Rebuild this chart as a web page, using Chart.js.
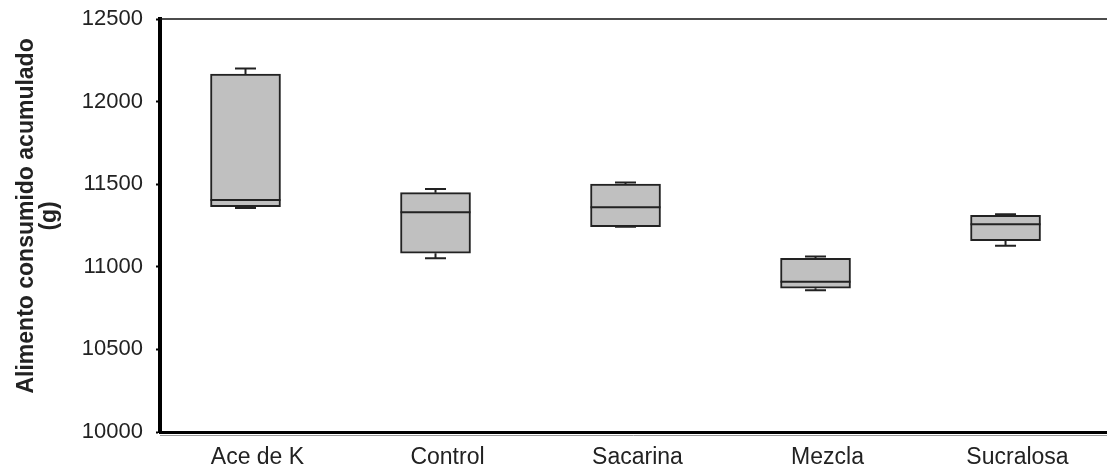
<!DOCTYPE html>
<html>
<head>
<meta charset="utf-8">
<script src="https://cdn.jsdelivr.net/npm/chart.js@4/dist/chart.umd.min.js"></script>
<style>
  html, body { margin: 0; padding: 0; background: #fff; }
  #wrap { width: 1107px; height: 474px; }
</style>
</head>
<body>
<div id="wrap"><canvas id="box-chart"></canvas></div>
<script>
// ======
// data
// ======
var categories = ["Ace de K", "Control", "Sacarina", "Mezcla", "Sucralosa"];
var whiskerLow  = [11356, 11051, 11243, 10858, 11128];
var q1Values    = [11364, 11082, 11243, 10870, 11158];
var medians     = [11404, 11330, 11360, 10910, 11257];
var q3Values    = [12167, 11449, 11501, 11051, 11312];
var whiskerHigh = [12201, 11471, 11511, 11063, 11318];
var yTicks = [10000, 10500, 11000, 11500, 12000, 12500];

var boxShift = -0.063; // boxes sit a little left of their labels

var ink = '#222';
var font = "'Liberation Sans', Arial, sans-serif";

// whiskers, caps and median lines
var boxExtras = {
    id: 'boxExtras',
    afterDatasetsDraw: function(chart) {
        var c = chart.ctx;
        var y = chart.scales.y;
        var bars = chart.getDatasetMeta(0).data;
        c.save();
        c.strokeStyle = ink;
        c.lineWidth = 2;
        bars.forEach(function(bar, i) {
            var x = bar.x;
            var half = bar.width / 2;
            var capHalf = 10.5;
            var yMed = y.getPixelForValue(medians[i]);
            var yQ1 = y.getPixelForValue(q1Values[i]);
            var yQ3 = y.getPixelForValue(q3Values[i]);
            var yLo = y.getPixelForValue(whiskerLow[i]);
            var yHi = y.getPixelForValue(whiskerHigh[i]);
            c.beginPath();
            c.moveTo(x - half, yMed); c.lineTo(x + half, yMed);
            c.moveTo(x, yQ3); c.lineTo(x, yHi);
            c.moveTo(x - capHalf, yHi); c.lineTo(x + capHalf, yHi);
            c.moveTo(x, yQ1); c.lineTo(x, yLo);
            c.moveTo(x - capHalf, yLo); c.lineTo(x + capHalf, yLo);
            c.stroke();
        });
        // frame: thin top line, grey shadow under the x axis
        var a = chart.chartArea;
        c.lineWidth = 1.5;
        c.strokeStyle = '#111';
        c.beginPath();
        c.moveTo(a.left, a.top); c.lineTo(a.right, a.top);
        c.stroke();
        c.lineWidth = 1;
        c.strokeStyle = '#999';
        c.beginPath();
        c.moveTo(a.left, a.bottom + 3.5); c.lineTo(a.right, a.bottom + 3.5);
        c.stroke();
        c.restore();
    }
};

new Chart(document.getElementById('box-chart'), {
    type: 'bar',
    data: {
        datasets: [{
            data: categories.map(function(_, i) {
                return { x: i + boxShift, y: [q1Values[i], q3Values[i]] };
            }),
            backgroundColor: '#c0c0c0',
            borderColor: ink,
            borderWidth: 2,
            borderSkipped: false,
            barThickness: 70
        }]
    },
    plugins: [boxExtras],
    options: {
        responsive: true,
        maintainAspectRatio: false,
        animation: false,
        layout: { padding: { top: 19, right: 0, left: 0, bottom: 0 } },
        plugins: {
            legend: { display: false },
            tooltip: { enabled: false }
        },
        scales: {
            x: {
                type: 'linear',
                min: -0.513,
                max: 4.471,
                offset: false,
                afterBuildTicks: function(scale) {
                    scale.ticks = categories.map(function(_, i) { return { value: i }; });
                },
                afterFit: function(scale) { scale.height = 42; },
                grid: { display: false, drawTicks: false },
                border: { display: true, color: '#000', width: 3 },
                ticks: {
                    autoSkip: false,
                    maxRotation: 0,
                    padding: 12,
                    color: ink,
                    font: { family: font, size: 23 },
                    callback: function(v) { return categories[v]; }
                }
            },
            y: {
                min: 10000,
                max: 12500,
                afterBuildTicks: function(scale) {
                    scale.ticks = yTicks.map(function(v) { return { value: v }; });
                },
                afterFit: function(scale) {
                    scale.width = 160;
                    scale.paddingTop = 0;
                    scale.paddingBottom = 0;
                },
                grid: {
                    drawOnChartArea: false,
                    drawTicks: true,
                    tickLength: 4,
                    color: '#000',
                    tickWidth: 2
                },
                border: { display: true, color: '#000', width: 4 },
                ticks: {
                    padding: 13,
                    color: ink,
                    font: { family: font, size: 22 },
                    callback: function(v) { return String(v); }
                },
                title: {
                    display: true,
                    text: ['   Alimento consumido acumulado', '   (g)'],
                    color: ink,
                    font: { family: font, size: 23, weight: 'bold', lineHeight: 1.0 },
                    padding: { top: 15, bottom: 0 }
                }
            }
        }
    }
});
</script>
</body>
</html>
